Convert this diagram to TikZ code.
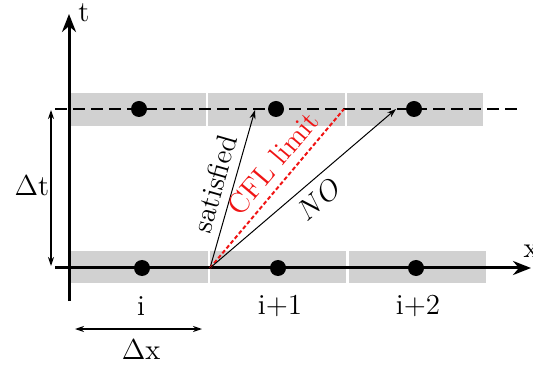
\documentclass[tikz,border=0pt]{standalone}
\usetikzlibrary{arrows.meta}
\definecolor{cellgray}{RGB}{209,209,209}
\definecolor{cflred}{RGB}{240,20,20}
\begin{document}
\begin{tikzpicture}[x=0.5pt,y=-0.5pt,font=\fontsize{14.5}{17}\selectfont,
  cell/.style={fill=cellgray,draw=none},
  axis/.style={line width=1.5pt,-{Stealth[length=9pt,width=7pt]}},
  thinarrow/.style={line width=0.5pt,-{Stealth[length=4.5pt,width=3pt]}},
  dimarrow/.style={line width=0.6pt,{Stealth[length=4.5pt,width=3pt]}-{Stealth[length=4.5pt,width=3pt]}},
  dot/.style={circle,fill=black,inner sep=0pt,minimum size=8pt},
  lbl/.style={inner sep=1pt}]
\useasboundingbox (0,0) rectangle (533,367);
% cells
\fill[cell] (70,251) rectangle (208,283);
\fill[cell] (210,251) rectangle (346,283);
\fill[cell] (349,251) rectangle (486,283);
\fill[cell] (70,93) rectangle (206,126);
\fill[cell] (208,93) rectangle (345,126);
\fill[cell] (347,93) rectangle (483,126);
% dashed time level
\coordinate (dl) at (55,109);
\coordinate (dr) at (520,109);
\draw[line width=1pt,dash pattern=on 6pt off 3pt] (dl) -- (dr);
% axes
\coordinate (xs) at (55,268);
\coordinate (xe) at (531,268);
\coordinate (ts) at (69,301);
\coordinate (te) at (69,14);
\draw[axis] (xs) -- (xe);
\draw[axis] (ts) -- (te);
\node[lbl] (tl) at (84,13) {t};
\node[lbl] (xl) at (531,251) {x};
% dots
\node[dot] (b1) at (142,268) {};
\node[dot] (b2) at (278,268) {};
\node[dot] (b3) at (416,268) {};
\node[dot] (t1) at (139,109) {};
\node[dot] (t2) at (276,109) {};
\node[dot] (t3) at (414,109) {};
% characteristic lines
\coordinate (O) at (210,268);
\coordinate (S) at (255,110);
\coordinate (C) at (344,109);
\coordinate (N) at (396,109);
\draw[thinarrow] (O) -- (S) node[lbl,pos=0.5,sloped,above=3pt] (sl) {satisfied};
\draw[cflred,line width=1pt,dash pattern=on 2pt off 1.2pt] (O) -- (C) node[lbl,pos=0.58,sloped,above=3pt,text=cflred] (cl) {CFL limit};
\draw[thinarrow] (O) -- (N) node[lbl,pos=0.52,sloped,below=3pt] (nl) {$NO$};
% dimensions
\coordinate (dt1) at (51,110);
\coordinate (dt2) at (51,266);
\draw[dimarrow] (dt1) -- (dt2);
\node[lbl] (dtl) at (32,186) {$\Delta$t};
\coordinate (dx1) at (75,329);
\coordinate (dx2) at (202,329);
\draw[dimarrow] (dx1) -- (dx2);
\node[lbl] (dxl) at (141,350) {$\Delta$x};
% cell labels
\node[lbl] (li) at (141,306) {i};
\node[lbl] (li1) at (280,306) {i+1};
\node[lbl] (li2) at (418,306) {i+2};
\end{tikzpicture}
\end{document}
